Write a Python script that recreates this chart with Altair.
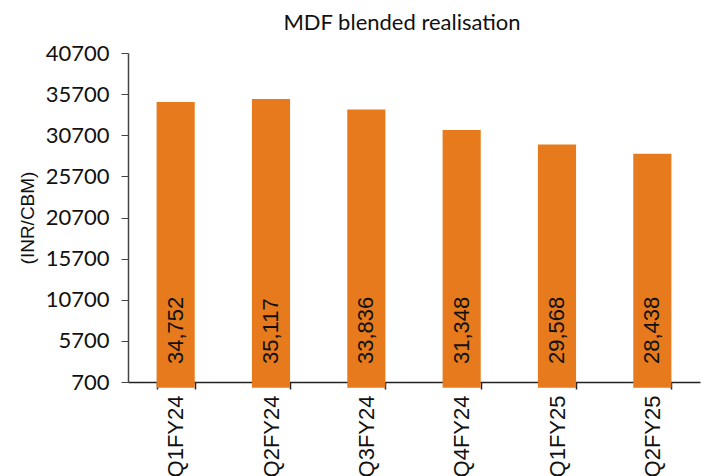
import altair as alt
import pandas as pd

# Quarterly blended realisation for MDF (INR per cubic metre)
quarters = ["Q1FY24", "Q2FY24", "Q3FY24", "Q4FY24", "Q1FY25", "Q2FY25"]
realisation = [34752, 35117, 33836, 31348, 29568, 28438]
y_ticks = [700, 5700, 10700, 15700, 20700, 25700, 30700, 35700, 40700]

df = pd.DataFrame({"quarter": quarters, "value": realisation})
df["label"] = df["value"].map(lambda v: f"{v:,}")

BAR = "#E67A1C"
Y_MIN, Y_MAX = 700, 40700

x_enc = alt.X(
    "quarter:N",
    sort=quarters,
    scale=alt.Scale(paddingInner=0.6, paddingOuter=0.3),
    axis=alt.Axis(
        title=None,
        labelAngle=270,
        labelAlign="right",
        labelBaseline="middle",
        labelFont="Liberation Sans",
        labelFontSize=22,
        labelColor="#111111",
        labelPadding=6,
        tickBand="extent",
        tickSize=7,
        tickColor="#222222",
        tickWidth=1.5,
        domainColor="#222222",
        domainWidth=1.5,
    ),
)

bars = alt.Chart(df).mark_bar(color=BAR).encode(
    x=x_enc,
    y=alt.Y(
        "value:Q",
        scale=alt.Scale(domain=[Y_MIN, Y_MAX], nice=False, zero=False),
        axis=alt.Axis(
            title="(INR/CBM)",
            titleFont="Liberation Sans",
            titleFontSize=19,
            titleFontWeight="normal",
            titleColor="#111111",
            titlePadding=8,
            values=y_ticks,
            format="d",
            labelFont="Lato",
            labelFontSize=22,
            labelColor="#111111",
            labelPadding=12,
            tickSize=7,
            tickColor="#444444",
            domainColor="#444444",
            domainWidth=1.5,
            grid=False,
        ),
    ),
)

# Value labels sit upright along each bar, just above the baseline
# (dx runs along the rotated text direction, i.e. upward).
labels = alt.Chart(df).mark_text(
    angle=270,
    align="left",
    baseline="middle",
    dx=18,
    font="Liberation Sans",
    fontSize=22,
    color="#111111",
).encode(
    x=alt.X("quarter:N", sort=quarters),
    y=alt.datum(Y_MIN),
    text="label:N",
)

chart = (
    alt.layer(bars, labels)
    .properties(
        width=572,
        height=329,
        autosize=alt.AutoSizeParams(type="none"),
        padding={"left": 128, "top": 53, "right": 12, "bottom": 94},
        title=alt.TitleParams(
            "MDF blended realisation",
            font="Lato",
            fontSize=22,
            fontWeight="normal",
            color="#111111",
            anchor="middle",
            dx=-12,
            offset=7,
        ),
    )
    .configure_view(stroke=None)
)

chart.save("out.html", embed_options={"renderer": "svg", "actions": False})
